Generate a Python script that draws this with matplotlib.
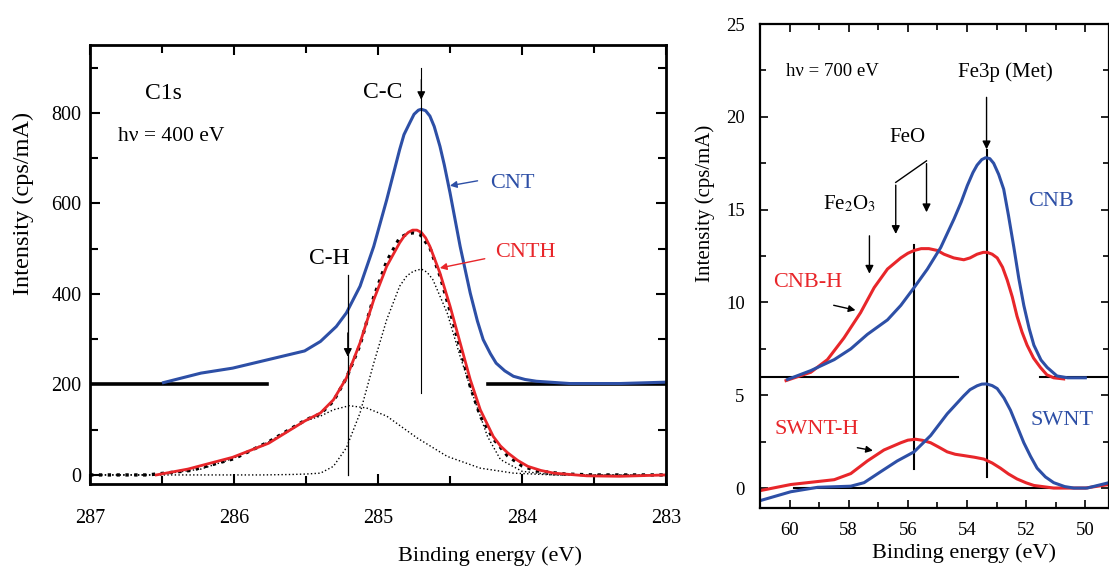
import matplotlib
matplotlib.use("Agg")
import matplotlib.pyplot as plt
from matplotlib.ticker import MultipleLocator

plt.rcParams['font.family'] = ['Liberation Serif', 'DejaVu Serif']
plt.rcParams['mathtext.fontset'] = 'stix'

BLUE = '#2d4fa6'
RED = '#e8262a'

# --- C1s panel data (binding energy eV, intensity cps/mA) ---
cnt_e = [286.49, 286.23, 286.01, 285.76, 285.51, 285.40, 285.29, 285.22, 285.125, 285.03,
         284.94, 284.85, 284.82, 284.78, 284.75, 284.72, 284.70, 284.67, 284.64, 284.61,
         284.57, 284.54, 284.50, 284.43, 284.36, 284.31, 284.27, 284.22, 284.18, 284.12,
         284.06, 283.98, 283.90, 283.67, 283.32, 283.00]
cnt_i = [204, 225, 236, 255, 274, 295, 328, 358, 417, 505,
         608, 719, 752, 778, 797, 806, 808, 805, 793, 770,
         726, 685, 623, 505, 402, 340, 299, 268, 247, 230,
         218, 211, 207, 202, 202, 205]

cnth_e = [286.54, 286.32, 286.01, 285.76, 285.51, 285.40, 285.31, 285.22, 285.125, 285.03,
          284.94, 284.85, 284.82, 284.79, 284.76, 284.73, 284.70, 284.67, 284.64, 284.57,
          284.50, 284.43, 284.36, 284.29, 284.20, 284.15, 284.10, 284.03, 283.96, 283.87,
          283.78, 283.55, 283.32, 283.00]
cnth_i = [0, 13, 39, 70, 119, 137, 166, 214, 292, 387,
          461, 513, 527, 536, 541, 541, 536, 524, 505, 446,
          373, 292, 211, 144, 85, 64, 49, 32, 19, 10,
          4, -2, -3, 0]

# fitted components (dotted)
cc_e = [287.0, 285.8, 285.6, 285.50, 285.40, 285.31, 285.22, 285.125, 285.03, 284.94,
        284.85, 284.80, 284.755, 284.70, 284.66, 284.62, 284.52, 284.43, 284.33, 284.24,
        284.15, 284.00, 283.78, 283.0]
cc_i = [0, 0, 1, 2, 4, 19, 60, 137, 247, 343,
        417, 440, 450, 455, 448, 432, 358, 262, 166, 85,
        34, 8, 0, 0]

ch_e = [287.0, 286.54, 286.23, 286.01, 285.76, 285.51, 285.40, 285.31, 285.20, 285.08,
        284.94, 284.73, 284.52, 284.29, 284.06, 283.78, 283.0]
ch_i = [0, 0, 13, 36, 73, 119, 130, 144, 153, 148,
        130, 82, 41, 15, 4, 0, 0]

env_e = [287.0, 286.6, 286.3, 286.0, 285.76, 285.5, 285.4, 285.31, 285.22, 285.125,
         285.03, 284.94, 284.85, 284.80, 284.76, 284.71, 284.64, 284.57, 284.5, 284.43,
         284.36, 284.29, 284.2, 284.1, 284.0, 283.9, 283.7, 283.5, 283.0]
env_i = [0, 0, 10, 36, 73, 122, 135, 163, 214, 287,
         393, 472, 524, 532, 535, 532, 502, 440, 362, 280,
         196, 130, 80, 42, 20, 9, 2, 0, 0]

# --- Fe3p panel data ---
cnb_e = [60.07, 59.28, 58.49, 57.93, 57.37, 56.69, 56.24, 55.79, 55.34, 54.89,
         54.44, 54.2, 53.99, 53.8, 53.66, 53.5, 53.37, 53.23, 53.10, 52.93,
         52.76, 52.6, 52.42, 52.25, 52.08, 51.9, 51.74, 51.5, 51.29, 50.96,
         50.60, 50.00]
cnb_i = [5.85, 6.33, 6.92, 7.5, 8.28, 9.06, 9.84, 10.8, 11.8, 12.96,
         14.5, 15.4, 16.3, 17.0, 17.4, 17.7, 17.8, 17.75, 17.5, 16.9,
         16.1, 14.7, 13.0, 11.3, 9.84, 8.6, 7.7, 6.9, 6.5, 6.04,
         5.94, 5.94]

cnbh_e = [60.12, 59.28, 58.72, 58.16, 57.60, 57.14, 56.69, 56.24, 56.0, 55.79,
          55.55, 55.29, 55.0, 54.78, 54.45, 54.11, 53.9, 53.66, 53.45, 53.32,
          53.15, 52.98, 52.8, 52.64, 52.47, 52.31, 52.14, 51.97, 51.75, 51.52,
          51.3, 51.07, 50.73]
cnbh_i = [5.79, 6.24, 6.92, 8.09, 9.45, 10.8, 11.8, 12.4, 12.65, 12.8,
          12.9, 12.9, 12.8, 12.6, 12.4, 12.3, 12.4, 12.6, 12.7, 12.7,
          12.6, 12.4, 11.9, 11.2, 10.3, 9.26, 8.4, 7.7, 7.0, 6.5,
          6.1, 5.94, 5.88]

swnt_e = [61.0, 59.96, 59.05, 57.93, 57.48, 56.92, 56.36, 55.79, 55.23, 54.67,
          54.11, 53.9, 53.66, 53.5, 53.34, 53.15, 52.98, 52.75, 52.53, 52.3,
          52.08, 51.85, 51.63, 51.35, 51.07, 50.7, 50.39, 49.94, 49.2]
swnt_i = [-0.68, -0.2, 0.04, 0.1, 0.29, 0.88, 1.46, 1.95, 2.83, 4.0,
          4.97, 5.3, 5.51, 5.6, 5.61, 5.52, 5.36, 4.85, 4.19, 3.3,
          2.44, 1.7, 1.07, 0.6, 0.29, 0.08, 0.0, 0.0, 0.29]

swnth_e = [61.0, 59.96, 59.17, 58.49, 57.93, 57.37, 56.81, 56.24, 56.0, 55.74,
           55.5, 55.23, 54.95, 54.67, 54.4, 54.11, 53.75, 53.43, 53.15, 52.87,
           52.6, 52.31, 52.0, 51.74, 51.07, 50.0, 49.2]
swnth_i = [-0.14, 0.19, 0.33, 0.45, 0.78, 1.46, 2.05, 2.44, 2.58, 2.63,
           2.57, 2.44, 2.2, 1.95, 1.82, 1.75, 1.66, 1.56, 1.35, 1.07,
           0.76, 0.49, 0.28, 0.14, 0.0, 0.0, 0.19]

fig = plt.figure(figsize=(11.09, 5.69), dpi=100)

# ---------------- left panel: C1s ----------------
ax = fig.add_axes([0.0812, 0.1494, 0.5194, 0.7715])
ax.set_xlim(287, 283)
ax.set_ylim(-20, 950)

ax.plot([287, 285.77], [200, 200], color='k', lw=2.6)
ax.plot([284.24, 283], [200, 200], color='k', lw=2.6)
ax.plot(cc_e, cc_i, color='k', lw=1.0, ls=':')
ax.plot(ch_e, ch_i, color='k', lw=1.0, ls=':')
ax.plot(env_e, env_i, color='k', lw=2.4, ls=':')
ax.plot(cnth_e, cnth_i, color=RED, lw=2.0)
ax.plot(cnt_e, cnt_i, color=BLUE, lw=2.2)

# C-C marker
ax.plot([284.70, 284.70], [180, 900], color='k', lw=0.8)
ax.annotate('', xy=(284.70, 823), xytext=(284.70, 880),
            arrowprops=dict(arrowstyle='-|>', color='k', lw=0.8, mutation_scale=12))
# C-H marker
ax.plot([285.21, 285.21], [0, 441], color='k', lw=0.9)
ax.annotate('', xy=(285.21, 255), xytext=(285.21, 320),
            arrowprops=dict(arrowstyle='-|>', color='k', lw=0.9, mutation_scale=12))

ax.text(286.49, 842, 'C1s', fontsize=17, ha='center', va='center')
ax.text(286.44, 748, 'h\u03bd = 400 eV', fontsize=15.5, ha='center', va='center')
ax.text(284.97, 846, 'C-C', fontsize=17, ha='center', va='center')
ax.text(285.34, 479, 'C-H', fontsize=17, ha='center', va='center')
ax.text(284.07, 645, 'CNT', fontsize=16, color=BLUE, ha='center', va='center')
ax.text(283.98, 492, 'CNTH', fontsize=16, color=RED, ha='center', va='center')
ax.annotate('', xy=(284.52, 638), xytext=(284.29, 651),
            arrowprops=dict(arrowstyle='-|>', color=BLUE, lw=1.0, mutation_scale=10))
ax.annotate('', xy=(284.59, 456), xytext=(284.24, 479),
            arrowprops=dict(arrowstyle='-|>', color=RED, lw=1.0, mutation_scale=10))

ax.xaxis.set_major_locator(MultipleLocator(1))
ax.xaxis.set_minor_locator(MultipleLocator(0.5))
ax.yaxis.set_major_locator(MultipleLocator(200))
ax.yaxis.set_minor_locator(MultipleLocator(100))
ax.tick_params(which='both', direction='in', top=True, right=True, width=1.5)
ax.tick_params(which='major', length=7, labelsize=14.5)
ax.tick_params(which='minor', length=6)
ax.tick_params(axis='x', pad=18)
ax.tick_params(axis='y', pad=6)
for s in ax.spines.values():
    s.set_linewidth(2.0)

fig.text(0.4418, 0.023, 'Binding energy (eV)', fontsize=16, ha='center', va='center')
fig.text(0.0207, 0.643, 'Intensity (cps/mA)', fontsize=17.5, rotation=90,
         ha='center', va='center')

# ---------------- right panel: Fe3p ----------------
bx = fig.add_axes([0.6853, 0.1077, 0.3147, 0.850])
bx.set_xlim(61, 49.2)
bx.set_ylim(-1.06, 25)

bx.plot([61, 54.31], [6.0, 6.0], color='k', lw=1.5)
bx.plot([51.54, 49.2], [6.0, 6.0], color='k', lw=1.5)
bx.plot([59.85, 50.0], [0, 0], color='k', lw=1.5)
bx.plot([55.79, 55.79], [1.03, 13.1], color='k', lw=1.5)
bx.plot([53.34, 53.34], [0.58, 18.2], color='k', lw=1.5)
bx.annotate('', xy=(53.34, 18.1), xytext=(53.34, 21.2),
            arrowprops=dict(arrowstyle='-|>', color='k', lw=1.0, mutation_scale=12))
bx.annotate('', xy=(57.30, 11.4), xytext=(57.30, 13.74),
            arrowprops=dict(arrowstyle='-|>', color='k', lw=1.0, mutation_scale=12))
bx.plot([55.37, 56.41], [17.63, 16.47], color='k', lw=1.0)
bx.annotate('', xy=(56.41, 13.54), xytext=(56.41, 16.47),
            arrowprops=dict(arrowstyle='-|>', color='k', lw=1.0, mutation_scale=12))
bx.annotate('', xy=(55.37, 14.71), xytext=(55.37, 17.63),
            arrowprops=dict(arrowstyle='-|>', color='k', lw=1.0, mutation_scale=12))

bx.plot(cnbh_e, cnbh_i, color=RED, lw=2.2)
bx.plot(cnb_e, cnb_i, color=BLUE, lw=2.2)
bx.plot(swnth_e, swnth_i, color=RED, lw=2.2)
bx.plot(swnt_e, swnt_i, color=BLUE, lw=2.2)

bx.text(58.55, 22.45, 'h\u03bd = 700 eV', fontsize=13.5, ha='center', va='center')
bx.text(52.7, 22.4, 'Fe3p (Met)', fontsize=15, ha='center', va='center')
bx.text(56.0, 18.9, 'FeO', fontsize=15, ha='center', va='center')
bx.text(57.99, 15.3, r'Fe$_2$O$_3$', fontsize=15, ha='center', va='center')
bx.text(51.16, 15.43, 'CNB', fontsize=16, color=BLUE, ha='center', va='center')
bx.text(59.39, 11.07, 'CNB-H', fontsize=16, color=RED, ha='center', va='center')
bx.text(50.79, 3.64, 'SWNT', fontsize=16, color=BLUE, ha='center', va='center')
bx.text(59.1, 3.16, 'SWNT-H', fontsize=16, color=RED, ha='center', va='center')
bx.annotate('', xy=(57.68, 9.55), xytext=(58.6, 9.88),
            arrowprops=dict(arrowstyle='-|>', color='k', lw=1.0, mutation_scale=10))
bx.annotate('', xy=(57.09, 1.99), xytext=(57.8, 2.2),
            arrowprops=dict(arrowstyle='-|>', color='k', lw=1.0, mutation_scale=10))

bx.xaxis.set_major_locator(MultipleLocator(2))
bx.xaxis.set_minor_locator(MultipleLocator(1))
bx.yaxis.set_major_locator(MultipleLocator(5))
bx.yaxis.set_minor_locator(MultipleLocator(2.5))
bx.tick_params(which='both', direction='in', top=True, right=True, width=1.2)
bx.tick_params(which='major', length=6, labelsize=13.5)
bx.tick_params(which='minor', length=4)
bx.tick_params(axis='x', pad=10)
bx.tick_params(axis='y', pad=11)
for s in bx.spines.values():
    s.set_linewidth(1.6)

fig.text(0.869, 0.028, 'Binding energy (eV)', fontsize=16, ha='center', va='center')
fig.text(0.636, 0.643, 'Intensity (cps/mA)', fontsize=15, rotation=90,
         ha='center', va='center')

fig.savefig('out.png', dpi=100)
